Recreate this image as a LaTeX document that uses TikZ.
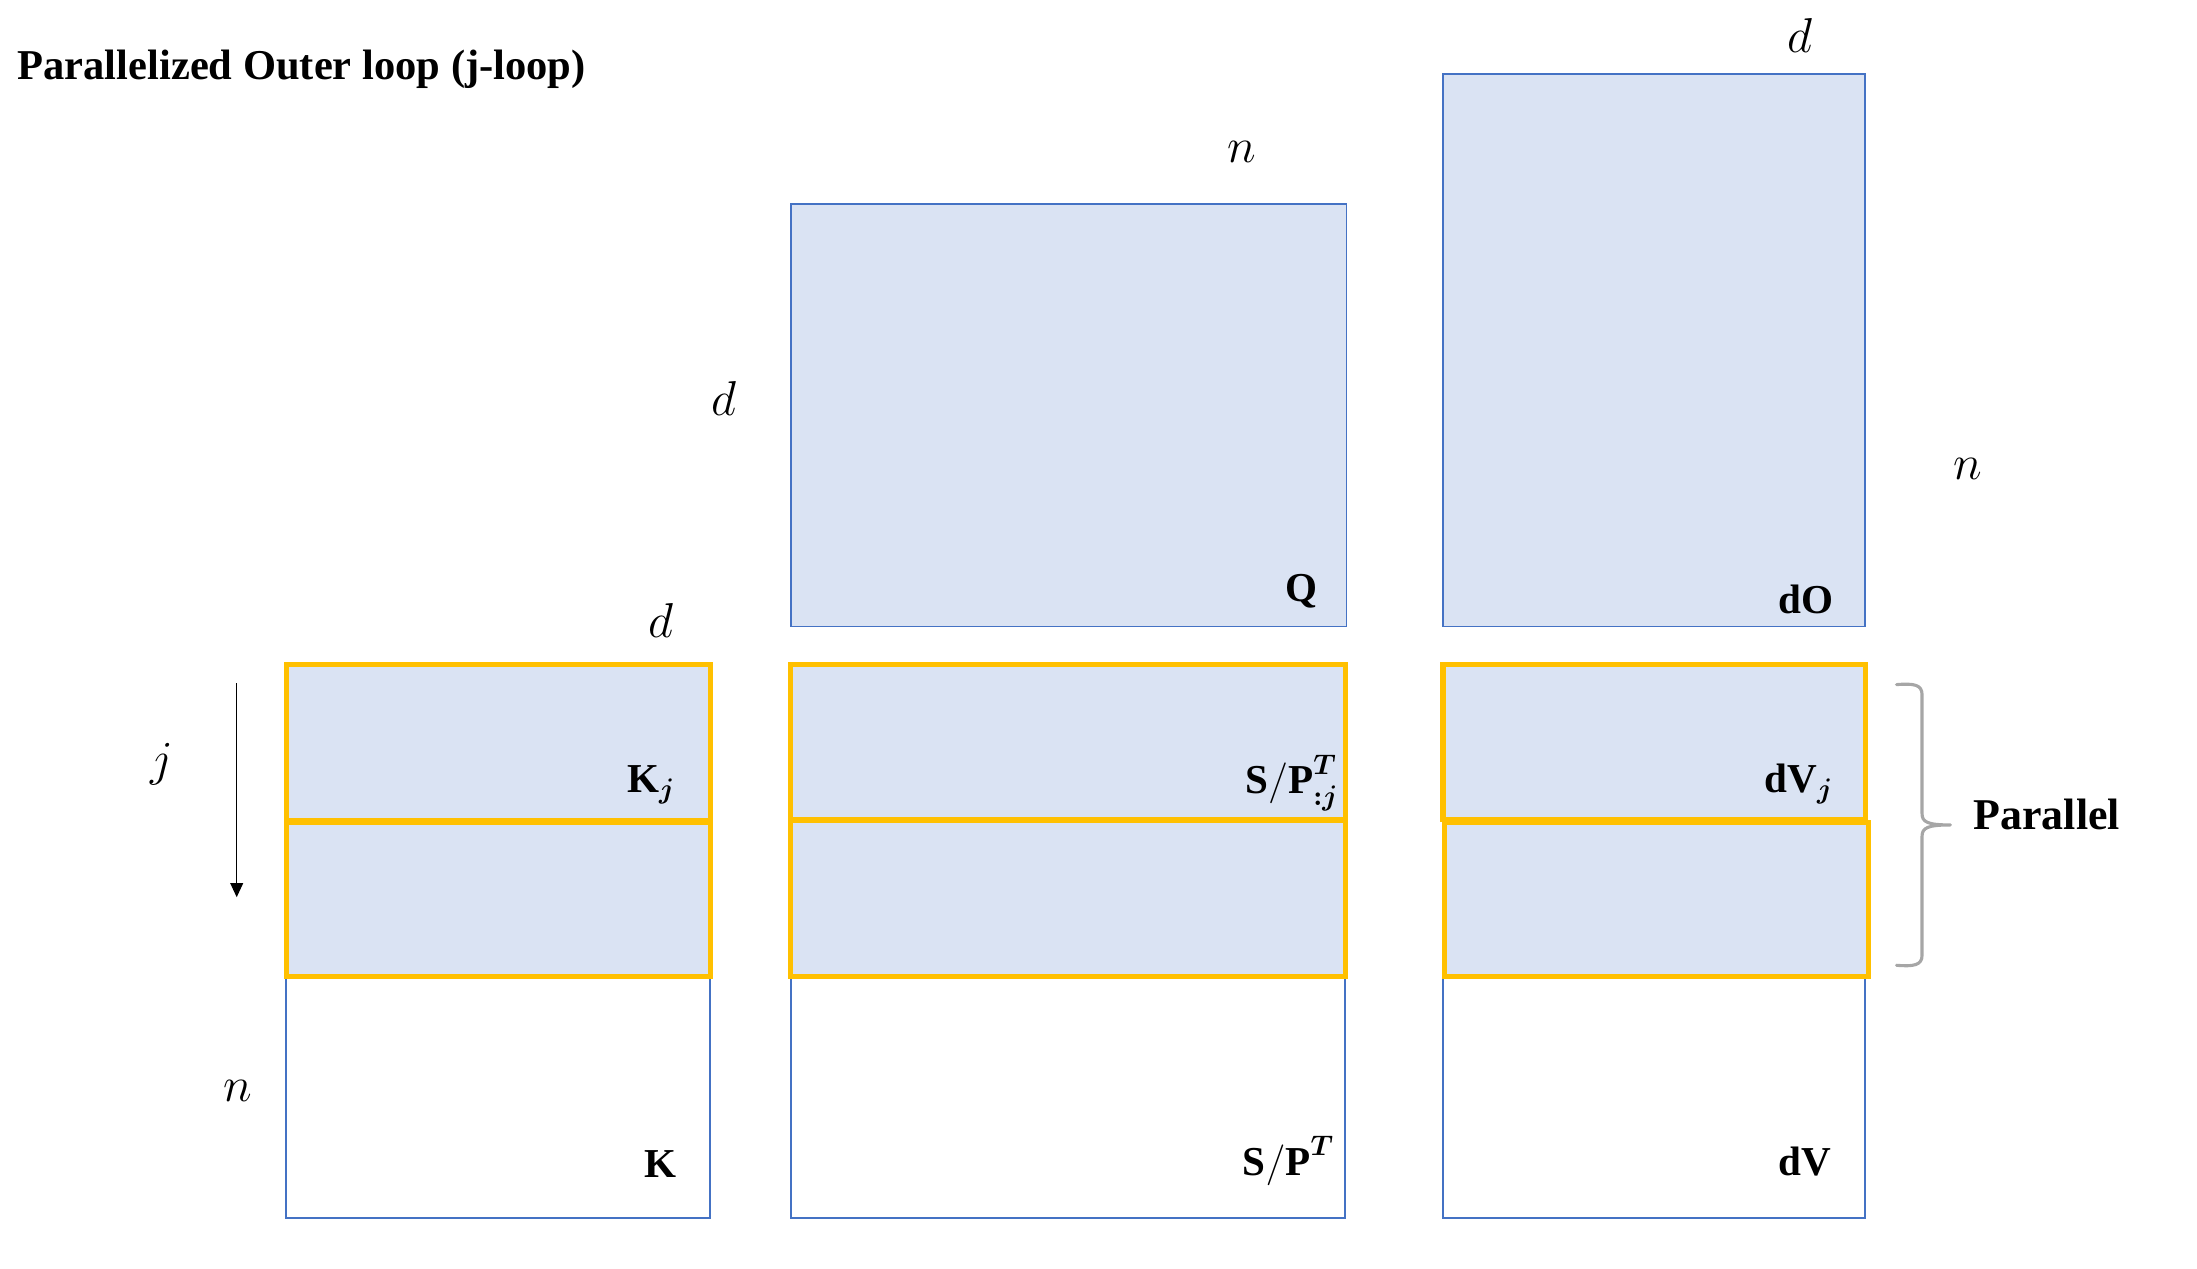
\documentclass[tikz,border=0pt]{standalone}
\usepackage{amsmath}
\usepackage{fontspec}
\setmainfont{Liberation Serif}
\usetikzlibrary{arrows.meta}
\definecolor{fillblue}{HTML}{DAE3F3}
\definecolor{lineblue}{HTML}{4472C4}
\definecolor{gold}{HTML}{FFC000}
\definecolor{bracegray}{HTML}{A6A6A6}
\begin{document}
\begin{tikzpicture}[x=0.5pt,y=-0.5pt,
  matbox/.style={draw=lineblue,line width=0.65pt},
  matfill/.style={matbox,fill=fillblue},
  blockbox/.style={draw=gold,line width=1.8pt,fill=fillblue},
  dimlbl/.style={inner sep=0pt,font=\fontsize{16}{19}\selectfont},
  matlbl/.style={inner sep=0pt,anchor=base east,font=\fontsize{14.5}{17}\selectfont},
  heading/.style={inner sep=0pt,font=\fontsize{15}{18}\selectfont\bfseries}]
\useasboundingbox (0,0) rectangle (1550,894.6);

\node[heading,anchor=base west] (title) at (12,56) {Parallelized Outer loop (j-loop)};

% ---------- K column ----------
\draw[matbox] (202,469) rectangle (501,859);
\draw[blockbox] (202,469) rectangle (501,579);
\draw[blockbox] (202,580) rectangle (501,689);
\node[matlbl] (kj) at (477,559) {$\mathbf{K}_{\boldsymbol{j}}$};
\node[matlbl] (k) at (478,831) {$\mathbf{K}$};
\node[dimlbl] (kd) at (466,438) {$d$};
\node[dimlbl] (kn) at (168,770) {$n$};
\node[dimlbl] (jlbl) at (114,539) {$j$};
\coordinate (jtop) at (167,482);
\coordinate (jbot) at (167,633);
\draw[line width=0.5pt,-{Triangle[length=5pt,width=4.5pt]}] (jtop) -- (jbot);

% ---------- Q and S/P column ----------
\draw[matfill] (558,144) rectangle (950,442);
\node[matlbl] (q) at (930,424) {$\mathbf{Q}$};
\node[dimlbl] (qn) at (876,107) {$n$};
\node[dimlbl] (qd) at (511,281) {$d$};
\draw[matbox] (558,469) rectangle (949,859);
\draw[blockbox] (558,469) rectangle (949,578);
\draw[blockbox] (558,579) rectangle (949,689);
\node[matlbl] (spj) at (945,560) {$\mathbf{S/P}^{\boldsymbol{T}}_{\boldsymbol{:j}}$};
\node[matlbl] (sp) at (942,829) {$\mathbf{S/P}^{\boldsymbol{T}}$};

% ---------- dO and dV column ----------
\draw[matfill] (1018,52) rectangle (1316,442);
\node[matlbl] (do) at (1294,433) {$\mathbf{dO}$};
\node[dimlbl] (dod) at (1270,25) {$d$};
\node[dimlbl] (don) at (1388,331) {$n$};
\draw[matbox] (1018,469) rectangle (1316,859);
\draw[blockbox] (1018,469) rectangle (1316,578);
\draw[blockbox] (1019,580) rectangle (1318,689);
\node[matlbl] (dvj) at (1294,559) {$\mathbf{dV}_{\boldsymbol{j}}$};
\node[matlbl] (dv) at (1292,829) {$\mathbf{dV}$};

% ---------- brace ----------
\draw[bracegray,line width=1.1pt,line cap=round,line join=round]
  (1338,483) .. controls (1350,482) and (1356,483) .. (1356,490)
  -- (1356,574) .. controls (1356,580) and (1360,582) .. (1376,582)
  .. controls (1360,582) and (1356,584) .. (1356,590)
  -- (1356,674) .. controls (1356,681) and (1350,682) .. (1338,681);
\node[heading,anchor=base west,font=\fontsize{15.5}{18}\selectfont\bfseries] (par) at (1392,585) {Parallel};
\end{tikzpicture}
\end{document}
